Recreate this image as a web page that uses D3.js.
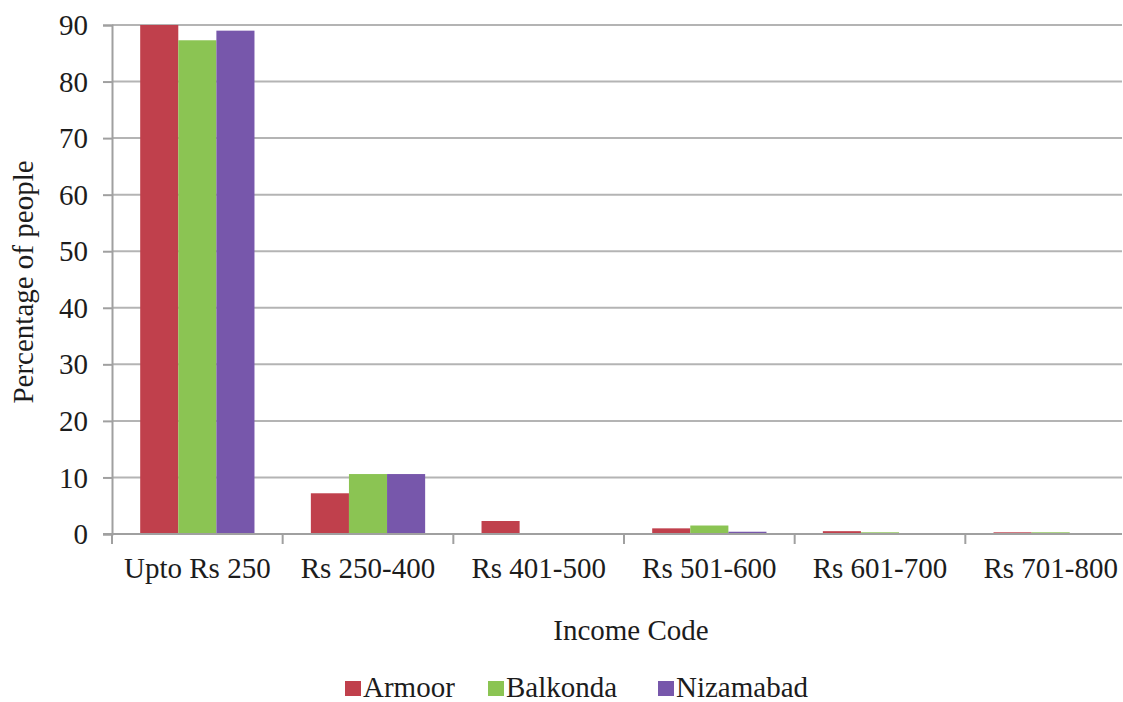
<!DOCTYPE html>
<html>
<head>
<meta charset="utf-8">
<script src="https://cdn.jsdelivr.net/npm/d3@7"></script>
<style>
  html, body { margin: 0; padding: 0; background: #fff; }
  svg { display: block; }
  text { font-family: "Liberation Serif", "Times New Roman", serif; fill: #1c1c1c; }
</style>
</head>
<body>
<svg id="chart" width="1123" height="702"></svg>
<script>
// Income groups and share of people (%) in each block
const categories = ["Upto Rs 250", "Rs 250-400", "Rs 401-500", "Rs 501-600", "Rs 601-700", "Rs 701-800"];
const seriesNames = ["Armoor", "Balkonda", "Nizamabad"];
const armoor    = [90.0, 7.2, 2.3, 1.0, 0.5, 0.3];
const balkonda  = [87.3, 10.6, 0.0, 1.5, 0.3, 0.3];
const nizamabad = [89.0, 10.6, 0.0, 0.4, 0.0, 0.0];
const yTicks = [0, 10, 20, 30, 40, 50, 60, 70, 80, 90];
const colors = ["#C0404C", "#8BC453", "#7757AB"];

const series = [armoor, balkonda, nizamabad];
const svg = d3.select("#chart");
const FS = 29;

const plot = { left: 112, right: 1136, top: 25, bottom: 534 };
const visibleRight = 1122;

const x = d3.scaleBand().domain(categories).range([plot.left, plot.right]).padding(0);
const xInner = d3.scaleBand().domain(seriesNames)
  .range([0, x.bandwidth()]).paddingInner(0).paddingOuter(0.74);
const y = d3.scaleLinear().domain([0, 90]).range([plot.bottom, plot.top]);

// horizontal gridlines
svg.append("g")
  .selectAll("line")
  .data(yTicks.filter(d => d > 0))
  .join("line")
  .attr("x1", plot.left).attr("x2", visibleRight)
  .attr("y1", d => y(d)).attr("y2", d => y(d))
  .attr("stroke", "#b4b4b4").attr("stroke-width", 2);

// bars
const rows = categories.map((c, i) => ({ c, vals: seriesNames.map((s, j) => ({ s, j, v: series[j][i] })) }));
svg.append("g")
  .selectAll("g")
  .data(rows)
  .join("g")
  .attr("transform", d => `translate(${x(d.c)},0)`)
  .selectAll("rect")
  .data(d => d.vals)
  .join("rect")
  .attr("x", d => xInner(d.s))
  .attr("width", xInner.bandwidth())
  .attr("y", d => y(d.v))
  .attr("height", d => y(0) - y(d.v))
  .attr("fill", d => colors[d.j]);

// y axis
const yAxis = svg.append("g")
  .attr("transform", `translate(${plot.left},0)`)
  .call(d3.axisLeft(y).tickValues(yTicks).tickSize(9).tickPadding(15).tickFormat(d3.format("d")));
yAxis.select(".domain").attr("stroke", "#a0a0a0").attr("stroke-width", 2);
yAxis.selectAll(".tick line").attr("stroke", "#a0a0a0").attr("stroke-width", 2);
yAxis.selectAll(".tick text").attr("font-size", FS).attr("fill", "#1c1c1c")
  .attr("font-family", "Liberation Serif").attr("dy", "0.33em");

// x axis baseline + ticks at category boundaries
const xg = svg.append("g");
xg.append("line")
  .attr("x1", plot.left - 9).attr("x2", visibleRight)
  .attr("y1", y(0)).attr("y2", y(0))
  .attr("stroke", "#a0a0a0").attr("stroke-width", 2);
xg.selectAll("line.tk")
  .data(categories)
  .join("line")
  .attr("class", "tk")
  .attr("x1", d => x(d)).attr("x2", d => x(d))
  .attr("y1", y(0)).attr("y2", y(0) + 10)
  .attr("stroke", "#a0a0a0").attr("stroke-width", 2);
xg.selectAll("text")
  .data(categories)
  .join("text")
  .attr("x", d => x(d) + x.bandwidth() / 2)
  .attr("y", 578)
  .attr("text-anchor", "middle")
  .attr("font-size", FS)
  .text(d => d);

// axis titles
svg.append("text")
  .attr("x", 631).attr("y", 640)
  .attr("text-anchor", "middle")
  .attr("font-size", FS)
  .text("Income Code");
svg.append("text")
  .attr("transform", "translate(33,282) rotate(-90)")
  .attr("text-anchor", "middle")
  .attr("font-size", FS)
  .text("Percentage of people");

// legend
const legendX = [345, 488, 658];
const lg = svg.append("g")
  .selectAll("g")
  .data(seriesNames)
  .join("g")
  .attr("transform", (d, i) => `translate(${legendX[i]},681)`);
lg.append("rect").attr("width", 16).attr("height", 15).attr("fill", (d, i) => colors[i]);
lg.append("text").attr("x", 18).attr("y", 16).attr("font-size", FS).text(d => d);
</script>
</body>
</html>
